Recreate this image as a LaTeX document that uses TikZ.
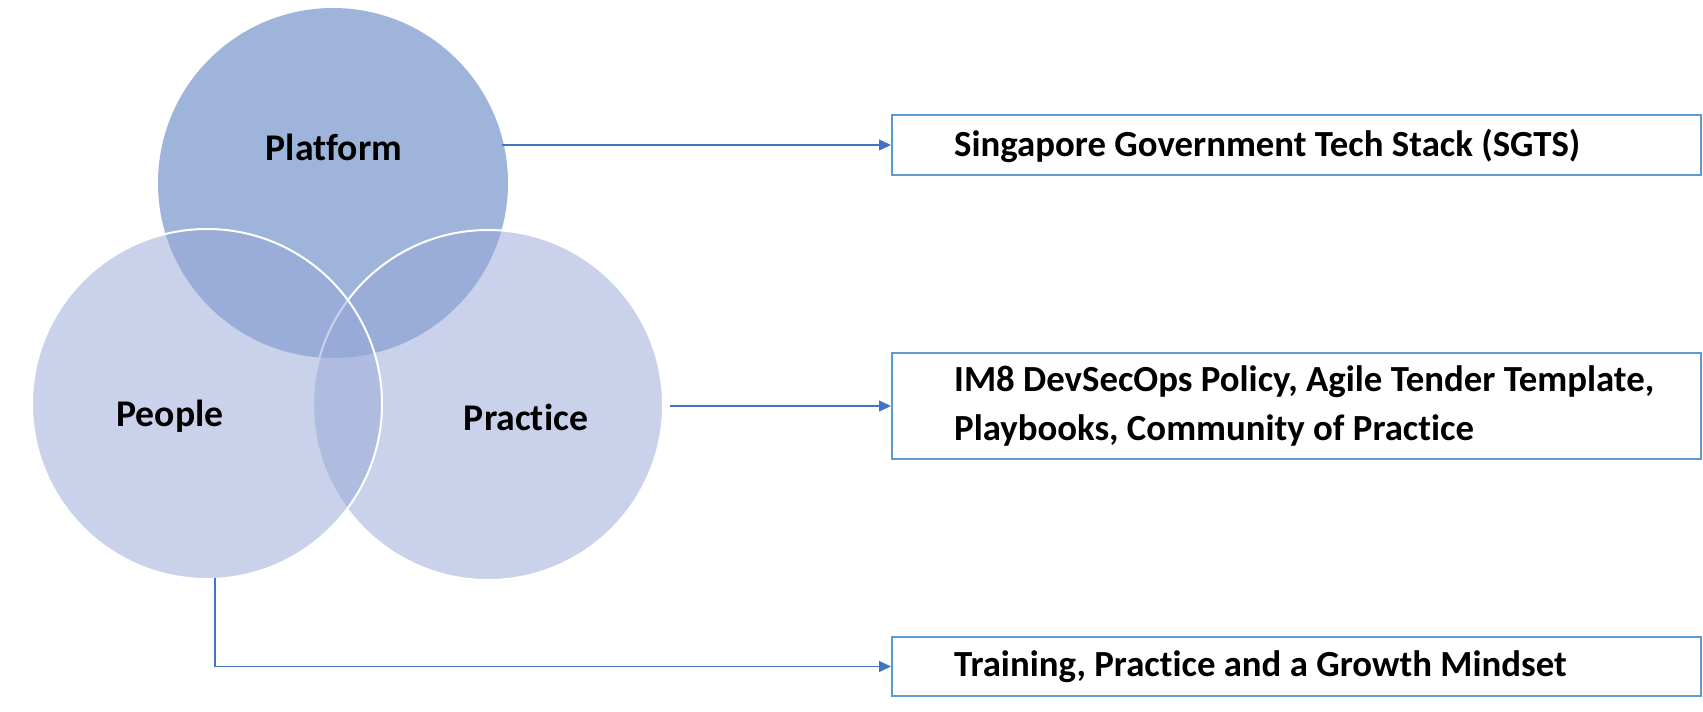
\documentclass[tikz,border=0pt]{standalone}
\usepackage{fontspec}
\setmainfont{Carlito}[Ligatures={NoCommon}]
\usetikzlibrary{arrows.meta}
\definecolor{plat}{RGB}{159,180,218}
\definecolor{venn}{RGB}{151,168,215}
\definecolor{boxc}{RGB}{91,155,213}
\definecolor{arr}{RGB}{68,114,196}
\begin{document}
\begin{tikzpicture}[x=1pt,y=-1pt,
  vcircle/.style={circle, inner sep=0pt, minimum size=350pt},
  side/.style={vcircle, fill=venn, fill opacity=0.52, draw=white, draw opacity=1, line width=2pt},
  lbl/.style={font=\fontsize{37.7}{45}\selectfont\bfseries, text=black, inner sep=0pt},
  infobox/.style={draw=boxc, line width=2pt, rectangle, minimum width=809pt, anchor=west, inner sep=0pt},
  infotext/.style={anchor=west, inner sep=0pt, align=left,
    font=\fontsize{36.8}{48.5}\selectfont\bfseries},
  conn/.style={draw=arr, line width=1.3pt, -{Triangle[length=12pt,width=11pt]}}
]
\useasboundingbox (0,0) rectangle (1703,712);
\node[vcircle, fill=plat] (platform) at (333,183) {};
\node[side] (practice) at (488,405) {};
\node[side] (people) at (207,404) {};
\node[lbl] (platformlbl) at (334,147) {Platform};
\node[lbl] (peoplelbl) at (170,416) {People};
\node[lbl] (practicelbl) at (526,417) {Practice};
\node[infobox, minimum height=60pt] (box1) at (891,145) {};
\node[infobox, minimum height=106pt] (box2) at (891,406) {};
\node[infobox, minimum height=59pt] (box3) at (891,666.5) {};
\node[infotext] (text1) at ([xshift=63pt,yshift=-1pt]box1.west) {Singapore Government Tech Stack (SGTS)};
\node[infotext] (text2) at ([xshift=63pt]box2.west) {IM8 DevSecOps Policy, Agile Tender Template,\\Playbooks, Community of Practice};
\node[infotext] (text3) at ([xshift=63pt]box3.west) {Training, Practice and a Growth Mindset};
\coordinate (s1) at (502,145);
\coordinate (s2) at (670,406);
\coordinate (s3) at (215,578);
\draw[conn] (s1) -- (box1.west);
\draw[conn] (s2) -- (box2.west);
\draw[conn] (s3) |- (box3.west);
\end{tikzpicture}
\end{document}
